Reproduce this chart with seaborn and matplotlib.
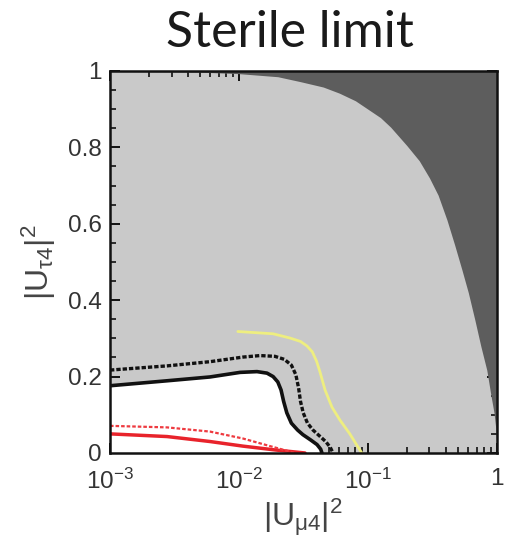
import numpy as np
import pandas as pd
import matplotlib
matplotlib.use("Agg")
import matplotlib.pyplot as plt
from matplotlib.ticker import MultipleLocator, LogLocator, NullFormatter
import seaborn as sns

# boundary of the dark (excluded) region
bound_x = [0.001, 0.005, 0.01, 0.02, 0.03, 0.045, 0.06, 0.08, 0.1, 0.125, 0.15,
           0.2, 0.25, 0.3, 0.35, 0.41, 0.47, 0.536, 0.6, 0.675, 0.75, 0.835,
           0.9, 0.95, 0.98, 1.0]
bound_y = [0.999, 0.997, 0.993, 0.985, 0.972, 0.958, 0.942, 0.922, 0.900, 0.878, 0.853,
           0.805, 0.765, 0.720, 0.675, 0.610, 0.545, 0.479, 0.420, 0.348, 0.280, 0.217,
           0.150, 0.105, 0.065, 0.010]

# solid black curve (edge of the white region)
solid_x = [0.001, 0.00277, 0.00596, 0.0102, 0.0138, 0.0165, 0.0184, 0.0200, 0.0212,
           0.0222, 0.0235, 0.0255, 0.0285, 0.0313, 0.036, 0.0403, 0.043, 0.044]
solid_y = [0.176, 0.189, 0.199, 0.211, 0.213, 0.209, 0.200, 0.186, 0.165,
           0.135, 0.105, 0.078, 0.060, 0.048, 0.034, 0.022, 0.010, 0.0]

# dashed black curve
dash_x = [0.001, 0.00277, 0.00596, 0.0107, 0.01456, 0.019, 0.0225, 0.0255, 0.0276,
          0.0290, 0.0300, 0.0315, 0.0340, 0.0375, 0.0420, 0.047, 0.051, 0.0536]
dash_y = [0.217, 0.228, 0.239, 0.251, 0.255, 0.253, 0.245, 0.230, 0.205,
          0.170, 0.135, 0.105, 0.078, 0.060, 0.045, 0.030, 0.015, 0.0]

# yellow curve
yel_x = [0.0098, 0.0184, 0.0248, 0.030, 0.0337, 0.0370, 0.0400, 0.0425, 0.0465,
         0.0526, 0.0607, 0.0724, 0.0836, 0.0897]
yel_y = [0.318, 0.312, 0.301, 0.292, 0.280, 0.265, 0.240, 0.212, 0.165,
         0.120, 0.086, 0.050, 0.016, 0.0]

# red curves
red_x = [0.001, 0.00277, 0.00596, 0.0107, 0.019, 0.0325]
red_y = [0.050, 0.043, 0.030, 0.018, 0.008, 0.0]
redd_x = [0.001, 0.00277, 0.00596, 0.0107, 0.0174, 0.0272]
redd_y = [0.071, 0.067, 0.056, 0.038, 0.018, 0.0]

xticks = [1e-3, 1e-2, 1e-1, 1]
xtick_labels = [r"$10^{-3}$", r"$10^{-2}$", r"$10^{-1}$", "1"]
yticks = [0, 0.2, 0.4, 0.6, 0.8, 1]
ytick_labels = ["0", "0.2", "0.4", "0.6", "0.8", "1"]

sns.set_theme(style="ticks")
plt.rcParams["font.family"] = ["Liberation Sans", "DejaVu Sans"]
plt.rcParams["mathtext.fontset"] = "custom"
plt.rcParams["mathtext.rm"] = "Liberation Sans"
plt.rcParams["mathtext.it"] = "Liberation Sans:italic"
plt.rcParams["mathtext.sf"] = "Liberation Sans"

fig = plt.figure(figsize=(5.06, 5.49), dpi=100)
ax = fig.add_axes([0.2174, 0.1749, 0.7646, 0.6958])
ax.set_facecolor("#c9c9c9")

# regions
ax.fill_between(solid_x, 0, solid_y, color="white", lw=0, zorder=1)
ax.fill_between(bound_x, bound_y, 1, color="#5d5d5d", lw=0, zorder=1)

df_solid = pd.DataFrame({"x": solid_x, "y": solid_y})
df_dash = pd.DataFrame({"x": dash_x, "y": dash_y})
df_yel = pd.DataFrame({"x": yel_x, "y": yel_y})
df_red = pd.DataFrame({"x": red_x, "y": red_y})
df_redd = pd.DataFrame({"x": redd_x, "y": redd_y})

sns.lineplot(data=df_solid, x="x", y="y", sort=False, estimator=None,
             color="#111111", lw=2.6, ax=ax, zorder=3)
sns.lineplot(data=df_dash, x="x", y="y", sort=False, estimator=None,
             color="#111111", lw=2.4, ax=ax, zorder=3)
ax.lines[-1].set_dashes([1.3, 0.6])
sns.lineplot(data=df_yel, x="x", y="y", sort=False, estimator=None,
             color="#eeee80", lw=2.0, ax=ax, zorder=3)
sns.lineplot(data=df_red, x="x", y="y", sort=False, estimator=None,
             color="#e8232b", lw=2.5, ax=ax, zorder=3)
sns.lineplot(data=df_redd, x="x", y="y", sort=False, estimator=None,
             color="#ee3a40", lw=1.6, ax=ax, zorder=3)
ax.lines[-1].set_dashes([1.6, 0.9])

ax.set_xscale("log")
ax.set_xlim(1e-3, 1)
ax.set_ylim(0, 1)
ax.set_xticks(xticks)
ax.set_xticklabels(xtick_labels)
ax.xaxis.set_minor_locator(LogLocator(base=10, subs=np.arange(2, 10)))
ax.xaxis.set_minor_formatter(NullFormatter())
ax.set_yticks(yticks)
ax.set_yticklabels(ytick_labels)
ax.yaxis.set_minor_locator(MultipleLocator(0.05))

ax.tick_params(which="both", direction="in", top=True, right=True,
               colors="#111111", labelcolor="#333333", labelsize=17.5)
ax.tick_params(which="major", length=7, width=1.4)
ax.tick_params(axis="y", which="major", pad=6)
ax.tick_params(axis="x", which="major", pad=11)
ax.tick_params(which="minor", length=4, width=1.2)
for sp in ax.spines.values():
    sp.set_linewidth(1.8)
    sp.set_color("#111111")
    sp.set_zorder(5)

ax.set_xlabel(r"$\mathrm{|U_{\mu 4}|^2}$", fontsize=23, color="#444444", labelpad=2)
ax.set_ylabel(r"$\mathrm{|U_{\tau 4}|^2}$", fontsize=23, color="#444444", labelpad=7)
ax.set_title("Sterile limit", fontsize=36, family=["Lato", "DejaVu Sans"],
             color="#1a1a1a", pad=17, x=0.465)

fig.savefig("out.png", dpi=100)
